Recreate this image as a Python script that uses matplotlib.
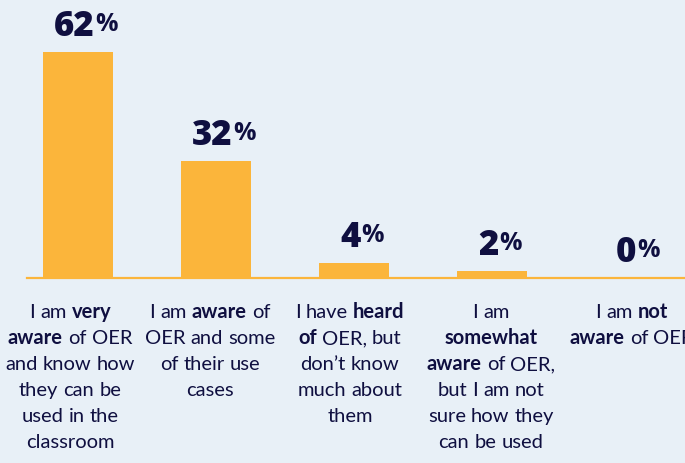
import matplotlib
matplotlib.use("Agg")
import matplotlib.pyplot as plt
from matplotlib.transforms import IdentityTransform

# ---------------- data ----------------
categories = [
    "I am **very**\n**aware** of OER\nand know how\nthey can be\nused in the\nclassroom",
    "I am **aware** of\nOER and some\nof their use\ncases",
    "I have **heard**\n**of** OER, but\ndon\u2019t know\nmuch about\nthem",
    "I am\n**somewhat**\n**aware** of OER,\nbut I am not\nsure how they\ncan be used",
    "I am **not**\n**aware** of OER",
]
values = [62, 32, 4, 2, 0]
value_suffix = "%"

# ---------------- style ----------------
BG = "#e8f0f7"
BAR = "#fbb53b"
NAVY = "#0f0f40"
W, H, DPI = 685, 463, 100
LABEL_FONT = "Lato"
VALUE_FONT = "Open Sans"
label_dx = [-8, -6, -4, -1, 2]   # small horizontal nudges of the category labels (px)

fig = plt.figure(figsize=(W / DPI, H / DPI), dpi=DPI, facecolor=BG)
ax = fig.add_axes([27 / W, 1 - 278 / H, 1 - 27 / W, 278 / H])
ax.set_facecolor(BG)
x = list(range(len(values)))
ax.bar(x, values, width=0.507, color=BAR, zorder=2)
ax.set_xlim(-0.37, 4.40)
ax.set_ylim(0, 76.27)
for s in ["top", "left", "right"]:
    ax.spines[s].set_visible(False)
ax.spines["bottom"].set_color(BAR)
ax.spines["bottom"].set_linewidth(1.6)
ax.set_xticks([])
ax.set_yticks([])

renderer = fig.canvas.get_renderer()


def text_width(s, **kw):
    t = fig.text(0, 0, s, **kw)
    w = t.get_window_extent(renderer).width
    t.remove()
    return w


def draw_pieces(pieces, cx, y_base, gap=1):
    """pieces: list of (text, kw, dy). drawn side by side centered at cx with baseline y_base (display px)."""
    widths = [text_width(p[0], **p[1]) for p in pieces]
    total = sum(widths) + gap * (len(pieces) - 1)
    xcur = cx - total / 2
    for (s, kw, dy), w in zip(pieces, widths):
        fig.text(xcur, y_base + dy, s, transform=IdentityTransform(),
                 ha="left", va="baseline", **kw)
        xcur += w + gap


# value labels
for xi, v in zip(x, values):
    px, py = ax.transData.transform((xi, v))
    num_kw = dict(fontsize=25, fontweight="heavy", family=VALUE_FONT, color=NAVY)
    pct_kw = dict(fontsize=18, fontweight="bold", family=VALUE_FONT, color=NAVY)
    draw_pieces([(str(v), num_kw, 0), (value_suffix, pct_kw, 5)], px + 8, py + 16)

# category labels with mixed weights
LFS = 14.5
reg_kw = dict(fontsize=LFS, fontweight="normal", family=LABEL_FONT, color=NAVY)
bold_kw = dict(fontsize=LFS, fontweight="bold", family=LABEL_FONT, color=NAVY)
space_w = text_width("a a", **reg_kw) - text_width("aa", **reg_kw)
first_base = H - 318
pitch = 26

for xi, cat, dx in zip(x, categories, label_dx):
    px, _ = ax.transData.transform((xi, 0))
    cx = px + dx
    for li, line in enumerate(cat.split("\n")):
        parts = line.split("**")
        words = []
        for pi, part in enumerate(parts):
            kw = bold_kw if pi % 2 == 1 else reg_kw
            for w in part.split(" "):
                if w:
                    words.append((w, kw))
        widths = [text_width(w, **kw) for w, kw in words]
        total = sum(widths) + space_w * (len(words) - 1)
        xcur = cx - total / 2
        yb = first_base - li * pitch
        for (w, kw), wd in zip(words, widths):
            fig.text(xcur, yb, w, transform=IdentityTransform(), ha="left", va="baseline", **kw)
            xcur += wd + space_w

fig.savefig("out.png", dpi=DPI, facecolor=BG)
